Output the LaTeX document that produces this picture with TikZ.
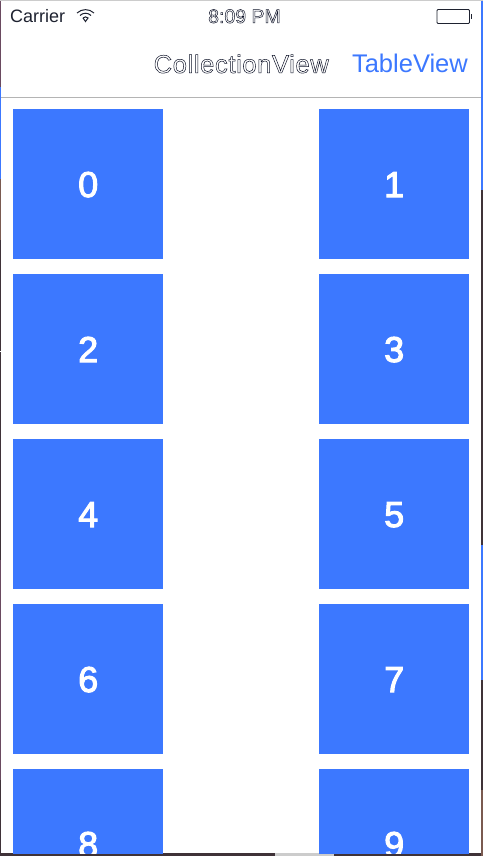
\documentclass[tikz,border=0pt]{standalone}
\usepackage{fontspec}
\setmainfont{Liberation Sans}
\definecolor{tileblue}{HTML}{3C78FF}
\definecolor{edgedark}{HTML}{3F3238}
\definecolor{edgeplum}{HTML}{6A4A60}
\definecolor{edgebrown}{HTML}{7A5A50}
\definecolor{barline}{HTML}{B4B4B4}
\definecolor{inkdark}{HTML}{1E2230}
\newcommand{\outlined}[1]{\special{pdf:code q 1 Tr 0.5 w 0.06 0.08 0.16 RG}#1\special{pdf:code Q}}
\newcommand{\heavy}[1]{\special{pdf:code q 2 Tr 1 w 1 1 1 RG 1 1 1 rg}#1\special{pdf:code Q}}
\tikzset{
  x=1pt,y=1pt,
  tile/.style={fill=tileblue,draw=none,minimum width=150pt,minimum height=150pt,inner sep=0pt,anchor=north west,text=white,text height=25.6pt,text depth=0pt,font=\fontsize{36}{36}\selectfont},
  status/.style={inner sep=0pt,text=inkdark,font=\fontsize{18}{20}\selectfont},
  navtitle/.style={inner sep=0pt,font=\fontsize{25.5}{28}\selectfont}
}
\begin{document}
\begin{tikzpicture}
\useasboundingbox (0,0) rectangle (483,-856);
\fill[edgedark] (0,0) rectangle (483,-856);
\fill[white] (1,-1) rectangle (481,-853);
\fill[gray!40] (0,0) rectangle (483,-1);
% left window edge
\fill[edgeplum] (0,-1) rectangle (1,-87);
\fill[tileblue] (0,-87) rectangle (1,-179);
\fill[edgebrown] (0,-179) rectangle (1,-240);
\fill[white] (0,-351) rectangle (1,-352);
\fill[edgeplum] (0,-560) rectangle (1,-780);
% right window edge
\fill[tileblue] (481,-1) rectangle (483,-190);
\fill[tileblue] (481,-545) rectangle (483,-680);
\fill[edgebrown] (481,-790) rectangle (483,-856);
\fill[gray!40] (275,-853) rectangle (334,-856);
\begin{scope}
\clip (1,-1) rectangle (481,-853);
\node[tile] (t0) at (13,-109) {\heavy{0}};
\node[tile] (t1) at (319,-109) {\heavy{1}};
\node[tile] (t2) at (13,-274) {\heavy{2}};
\node[tile] (t3) at (319,-274) {\heavy{3}};
\node[tile] (t4) at (13,-439) {\heavy{4}};
\node[tile] (t5) at (319,-439) {\heavy{5}};
\node[tile] (t6) at (13,-604) {\heavy{6}};
\node[tile] (t7) at (319,-604) {\heavy{7}};
\node[tile] (t8) at (13,-769) {\heavy{8}};
\node[tile] (t9) at (319,-769) {\heavy{9}};
\end{scope}
\fill[barline] (1,-97) rectangle (481,-98);
\node[status,anchor=base west] (carrier) at (10,-23) {Carrier};
\node[status,anchor=base,font=\fontsize{19.5}{20}\selectfont] (clock) at (244.5,-23) {\outlined{8:09 PM}};
\node[navtitle,anchor=base east] (cv) at (329,-73) {\addfontfeatures{LetterSpace=2.5}\outlined{CollectionView}};
\node[navtitle,anchor=base east,text=tileblue] (tv) at (468,-73) {TableView};
% wifi
\draw[inkdark,line width=1pt] (77,-13) .. controls (82,-8.5) and (89,-8.5) .. (94,-13);
\draw[inkdark,line width=1pt] (80,-15.5) .. controls (83,-12.5) and (88,-12.5) .. (91,-15.5);
\draw[inkdark,line width=1pt] (83,-18) -- (85.5,-21.5) -- (88,-18) .. controls (86,-16.5) and (85,-16.5) .. (83,-18);
% battery
\draw[inkdark,line width=0.8pt,rounded corners=1pt] (437,-9.5) rectangle (469.5,-23.5);
\fill[inkdark] (471,-14) rectangle (472,-19);
\end{tikzpicture}
\end{document}
